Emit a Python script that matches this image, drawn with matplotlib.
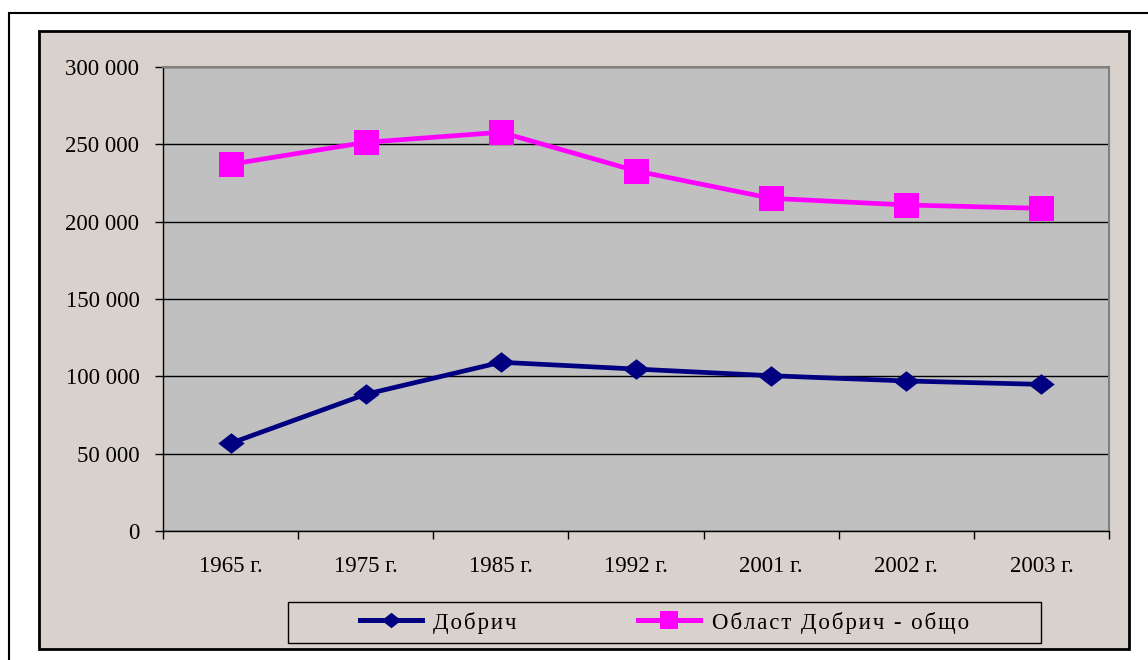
import matplotlib
matplotlib.use("Agg")
import matplotlib.pyplot as plt
from matplotlib.patches import Rectangle
from matplotlib.path import Path

plt.rcParams['font.family'] = ['Liberation Serif', 'DejaVu Serif']

# данни
years = ["1965 г.", "1975 г.", "1985 г.", "1992 г.", "2001 г.", "2002 г.", "2003 г."]
dobrich = [56700, 88400, 109100, 104700, 100400, 97000, 94800]
oblast = [237100, 251300, 257800, 232800, 215100, 210800, 208600]
yticks = [0, 50000, 100000, 150000, 200000, 250000, 300000]
names = ["Добрич", "Област Добрич - общо"]

W, H = 1148, 660
fig = plt.figure(figsize=(W / 100, H / 100), dpi=100)
fig.patch.set_facecolor("white")

# рамки
fig.patches.append(Rectangle((8.5 / W, -0.1), (W + 5) / W, 1.1 - 12.5 / H, transform=fig.transFigure,
                             facecolor="white", edgecolor="black", lw=1.5, zorder=0))
fig.patches.append(Rectangle((39 / W, 1 - 649 / H), (1129 - 39) / W, (649 - 31) / H,
                             transform=fig.transFigure, facecolor="#D9D1CB",
                             edgecolor="black", lw=2, zorder=0))
fig.patches.append(Rectangle((288 / W, 1 - 643 / H), (1041 - 288) / W, 41 / H,
                             transform=fig.transFigure, facecolor="none",
                             edgecolor="black", lw=1, zorder=1))

ax = fig.add_axes([163 / W, 1 - 531 / H, (1109 - 163) / W, (531 - 67) / H])
ax.set_zorder(2)
ax.set_facecolor("#C0C0C0")

x = list(range(len(years)))
diamond = Path([(-1, 0), (0, 0.78), (1, 0), (0, -0.78), (-1, 0)],
               [Path.MOVETO, Path.LINETO, Path.LINETO, Path.LINETO, Path.CLOSEPOLY])
ax.plot(x, dobrich, color="#000080", lw=3.4, marker=diamond, markersize=19,
        markeredgewidth=0, label=names[0], zorder=3)
ax.plot(x, oblast, color="#FF00FF", lw=3.4, marker="s", markersize=18,
        markeredgewidth=0, label=names[1], zorder=3)

ax.set_xlim(-0.5, len(years) - 0.5)
ax.set_ylim(0, 300000)
ax.set_yticks(yticks)
ax.set_yticklabels([f"{v:,}".replace(",", " ") for v in yticks])
ax.set_xticks(x)
ax.set_xticklabels(years)
ax.set_xticks([i - 0.5 for i in range(len(years) + 1)], minor=True)
ax.tick_params(axis="x", which="major", length=0, pad=18, labelsize=16.5)
ax.tick_params(axis="x", which="minor", length=6, width=1, direction="out")
ax.tick_params(axis="y", length=6, width=1, direction="out", pad=11, labelsize=16.5)

ax.grid(axis="y", color="black", lw=1)
ax.set_axisbelow(True)
for s in ["top", "right"]:
    ax.spines[s].set_color("#808080")
    ax.spines[s].set_linewidth(1.5)
for s in ["left", "bottom"]:
    ax.spines[s].set_color("black")
    ax.spines[s].set_linewidth(1)

# легенда
sp = "\u200a"
labels = [sp.join(n) for n in names]
handles = ax.get_lines()
leg = fig.legend(handles, labels, loc="center", ncol=2,
                 bbox_to_anchor=(664.5 / W, 1 - 622.5 / H),
                 frameon=False, fontsize=16.5, handlelength=2.7,
                 handletextpad=0.5, columnspacing=5.3,
                 markerscale=0.75)
for line in leg.get_lines():
    line.set_linewidth(3.6)

fig.savefig("out.png", dpi=100)
